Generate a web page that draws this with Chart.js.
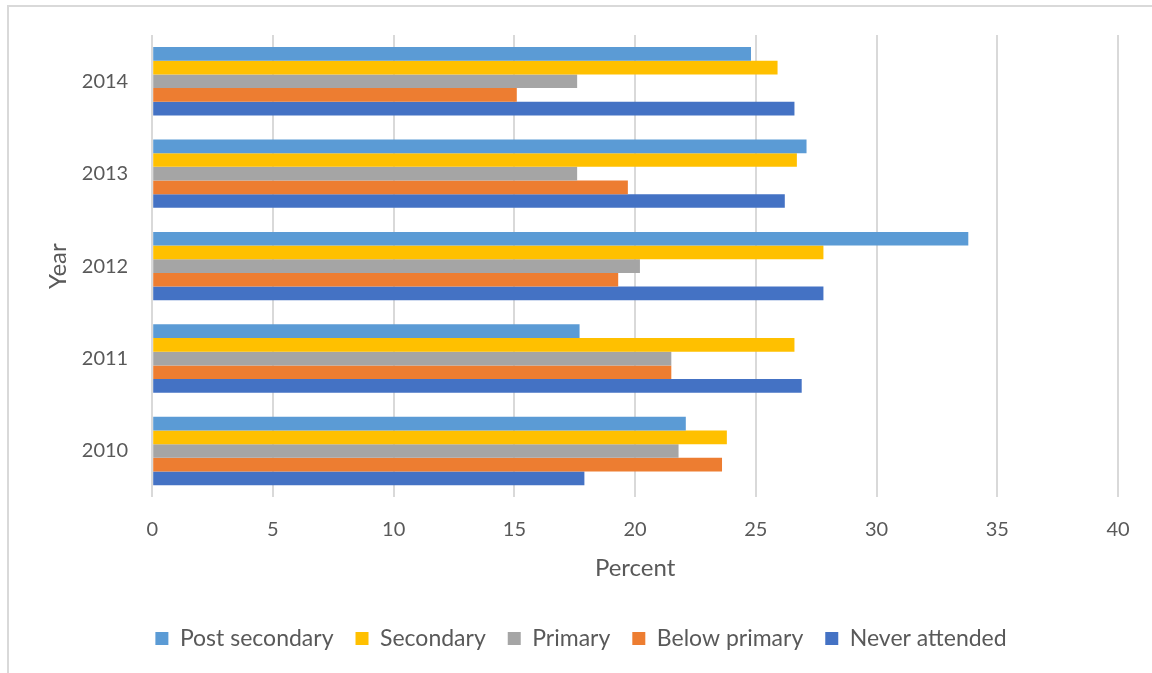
<!DOCTYPE html>
<html>
<head>
<meta charset="utf-8">
<script src="https://cdn.jsdelivr.net/npm/chart.js@4/dist/chart.umd.min.js"></script>
<style>
    html, body { margin: 0; padding: 0; background: #fff; overflow: hidden; }
    #frame {
        position: absolute; left: 7px; top: 5px; width: 1160px; height: 700px;
        border: 2px solid #d9d9d9; box-sizing: border-box;
    }
    #chart { position: absolute; left: 0; top: 0; }
</style>
</head>
<body>
<div id="frame"></div>
<canvas id="chart" width="1152" height="673"></canvas>
<script>
// years listed top to bottom as in the chart
const years = ['2014', '2013', '2012', '2011', '2010'];
const postSecondary = [24.8, 27.1, 33.8, 17.7, 22.1];
const secondary = [25.9, 26.7, 27.8, 26.6, 23.8];
const primary = [17.6, 17.6, 20.2, 21.5, 21.8];
const belowPrimary = [15.1, 19.7, 19.3, 21.5, 23.6];
const neverAttended = [26.6, 26.2, 27.8, 26.9, 17.9];

const textColor = '#595959';
const fontFamily = 'Lato, "Open Sans", sans-serif';

const ctx = document.getElementById('chart').getContext('2d');
new Chart(ctx, {
    type: 'bar',
    data: {
        labels: years,
        datasets: [
            { label: 'Post secondary', data: postSecondary, backgroundColor: '#5B9BD5' },
            { label: 'Secondary', data: secondary, backgroundColor: '#FFC000' },
            { label: 'Primary', data: primary, backgroundColor: '#A5A5A5' },
            { label: 'Below primary', data: belowPrimary, backgroundColor: '#ED7D31' },
            { label: 'Never attended', data: neverAttended, backgroundColor: '#4472C4' }
        ]
    },
    options: {
        indexAxis: 'y',
        responsive: false,
        animation: false,
        categoryPercentage: 0.74,
        barPercentage: 1,
        borderWidth: 0,
        layout: {
            padding: { left: 44, right: 34, top: 35, bottom: 13 }
        },
        scales: {
            x: {
                min: 0,
                max: 40,
                ticks: {
                    stepSize: 5,
                    color: textColor,
                    padding: 20,
                    font: { family: fontFamily, size: 20 }
                },
                grid: { color: '#d9d9d9', lineWidth: 2, drawTicks: false },
                border: { display: false },
                title: {
                    display: true,
                    text: 'Percent',
                    color: textColor,
                    font: { family: fontFamily, size: 24 },
                    padding: { top: -7, bottom: 22 }
                }
            },
            y: {
                grid: { display: false },
                border: { display: false },
                ticks: {
                    color: textColor,
                    padding: 16,
                    font: { family: fontFamily, size: 20 }
                },
                title: {
                    display: true,
                    text: 'Year',
                    color: textColor,
                    font: { family: fontFamily, size: 24 },
                    padding: { top: 0, bottom: -7 }
                }
            }
        },
        plugins: {
            legend: {
                position: 'bottom',
                labels: {
                    boxWidth: 13,
                    boxHeight: 13,
                    padding: 22,
                    color: textColor,
                    font: { family: fontFamily, size: 23 }
                }
            },
            tooltip: { enabled: false }
        }
    }
});
</script>
</body>
</html>
